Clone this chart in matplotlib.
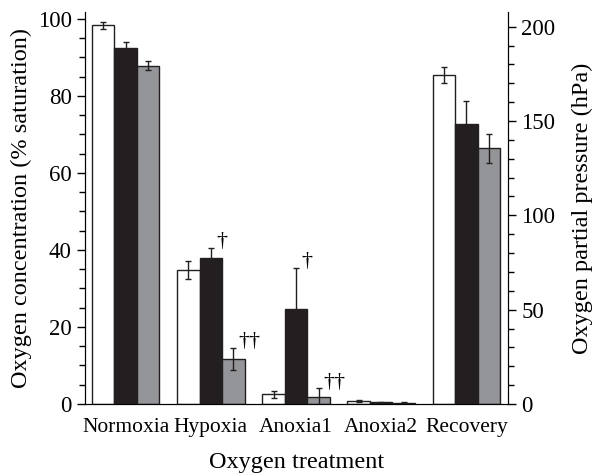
import numpy as np
import matplotlib.pyplot as plt
from matplotlib.ticker import MultipleLocator

plt.rcParams['font.family'] = ['Liberation Serif', 'DejaVu Serif']

# data (% saturation)
treatments = ['Normoxia', 'Hypoxia', 'Anoxia1', 'Anoxia2', 'Recovery']
white_vals = [98.3, 34.8, 2.5, 0.8, 85.5]
white_err = [1.0, 2.3, 1.0, 0.3, 2.1]
black_vals = [92.5, 37.8, 24.6, 0.4, 72.7]
black_err = [1.5, 2.8, 10.8, 0.1, 6.0]
gray_vals = [87.9, 11.7, 1.9, 0.3, 66.4]
gray_err = [1.2, 2.9, 2.2, 0.1, 3.7]
# significance marks: (group index, series index, text)
marks = [(1, 1, '\u2020'), (1, 2, '\u2020\u2020'), (2, 1, '\u2020'), (2, 2, '\u2020\u2020')]

fig = plt.figure(figsize=(5.97, 4.73), dpi=100)
ax = fig.add_axes([0.1424, 0.1459, 0.7087, 0.8287])

x = np.arange(len(treatments))
w = 0.264
series = [(white_vals, white_err, 'white'),
          (black_vals, black_err, '#231f20'),
          (gray_vals, gray_err, '#939598')]
for k, (vals, err, col) in enumerate(series):
    pos = x + (k - 1) * w
    ax.bar(pos, vals, w, color=col, edgecolor='#231f20', linewidth=1.0, zorder=2)
    ax.errorbar(pos, vals, yerr=err, fmt='none', ecolor='#231f20',
                elinewidth=1.0, capsize=2.3, capthick=1.0, zorder=3)

for g, s, txt in marks:
    vals, err, _ = series[s]
    ax.annotate(txt, xy=(x[g] + (s - 1) * w, vals[g] + err[g]),
                xytext=(5, 6), textcoords='offset pixels',
                ha='left', va='center', fontsize=16)

ax.set_xlim(-0.478, 4.49)
ax.set_ylim(0, 101.8)
ax.set_xticks(x)
ax.set_xticklabels(treatments, fontsize=15.5)
ax.tick_params(axis='x', length=0, pad=10)
ax.yaxis.set_major_locator(MultipleLocator(20))
ax.yaxis.set_minor_locator(MultipleLocator(5))
ax.tick_params(axis='y', which='major', direction='out', length=6, width=1, labelsize=16.5)
ax.tick_params(axis='y', which='minor', direction='out', length=4, width=1)
ax.spines['top'].set_visible(False)
ax.set_xlabel('Oxygen treatment', fontsize=17.5, labelpad=11)
ax.set_ylabel('Oxygen concentration (% saturation)', fontsize=17.5, labelpad=4)

ax2 = ax.twinx()
ax2.set_ylim(0, 207.8)
ax2.yaxis.set_major_locator(MultipleLocator(50))
ax2.yaxis.set_minor_locator(MultipleLocator(10))
ax2.tick_params(axis='y', which='major', direction='out', length=6, width=1, labelsize=16.5)
ax2.tick_params(axis='y', which='minor', direction='out', length=4, width=1)
ax2.spines['top'].set_visible(False)
ax2.set_ylabel('Oxygen partial pressure (hPa)', fontsize=17.5, labelpad=12)

fig.savefig('out.png', dpi=100)
